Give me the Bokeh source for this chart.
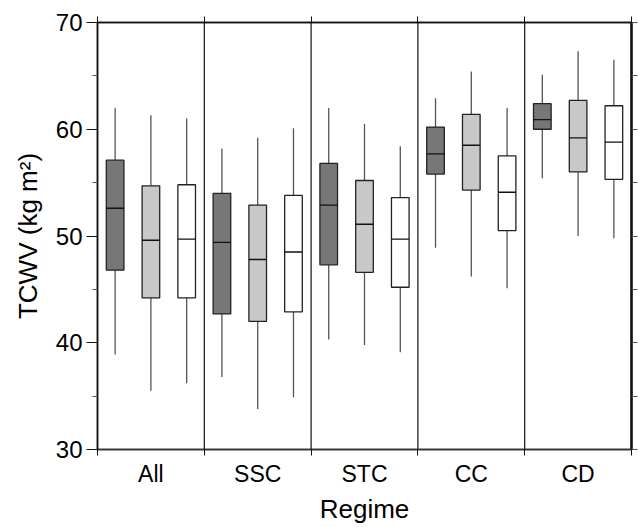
from bokeh.plotting import figure
from bokeh.models import FixedTicker, LinearAxis, Span, Range1d
from bokeh.embed import file_html
from bokeh.resources import INLINE

regimes = ["All", "SSC", "STC", "CC", "CD"]

# series A (dark grey boxes)
a_low = [38.9, 36.8, 40.3, 48.9, 55.4]
a_q1 = [46.8, 42.7, 47.3, 55.8, 60.0]
a_med = [52.6, 49.4, 52.9, 57.7, 60.9]
a_q3 = [57.1, 54.0, 56.8, 60.2, 62.4]
a_high = [62.0, 58.2, 62.0, 62.9, 65.1]

# series B (light grey boxes)
b_low = [35.5, 33.8, 39.8, 46.2, 50.0]
b_q1 = [44.2, 42.0, 46.6, 54.3, 56.0]
b_med = [49.6, 47.8, 51.1, 58.5, 59.2]
b_q3 = [54.7, 52.9, 55.2, 61.4, 62.7]
b_high = [61.3, 59.2, 60.5, 65.4, 67.3]

# series C (white boxes)
c_low = [36.2, 34.9, 39.1, 45.1, 49.8]
c_q1 = [44.2, 42.9, 45.2, 50.5, 55.3]
c_med = [49.7, 48.5, 49.7, 54.1, 58.8]
c_q3 = [54.8, 53.8, 53.6, 57.5, 62.2]
c_high = [61.0, 60.1, 58.4, 62.0, 66.5]

y_ticks = [30, 40, 50, 60, 70]
y_minor = [35, 45, 55, 65]

FONT = "Liberation Sans"

p = figure(width=639, height=527, output_backend="svg", toolbar_location=None,
           x_range=Range1d(0, 5), y_range=Range1d(30, 70),
           x_axis_location=None, y_axis_location=None,
           min_border_left=97, min_border_top=22, min_border_bottom=78, min_border_right=8)
p.grid.visible = False
p.outline_line_color = "#111111"
p.outline_line_width = 1.5
p.background_fill_color = "white"
p.border_fill_color = "white"

# separators
for i in range(1, len(regimes)):
    p.add_layout(Span(location=i, dimension="height", line_color="#111111", line_width=1.2))

series = [
    (a_low, a_q1, a_med, a_q3, a_high, "#777777", -0.335),
    (b_low, b_q1, b_med, b_q3, b_high, "#c8c8c8", 0.0),
    (c_low, c_q1, c_med, c_q3, c_high, "#ffffff", 0.335),
]
bw = 0.165
for low, q1, med, q3, high, col, off in series:
    xs = [i + 0.5 + off for i in range(len(regimes))]
    p.segment(x0=xs, y0=q3, x1=xs, y1=high, line_color="#555555", line_width=1.3)
    p.segment(x0=xs, y0=low, x1=xs, y1=q1, line_color="#555555", line_width=1.3)
    p.vbar(x=xs, width=bw, bottom=q1, top=q3, fill_color=col, line_color="#222222", line_width=1.3)
    p.segment(x0=[x - bw / 2 for x in xs], y0=med, x1=[x + bw / 2 for x in xs], y1=med,
              line_color="#111111", line_width=1.3)

cat_pos = [i + 0.5 for i in range(len(regimes))]
bounds = list(range(len(regimes) + 1))

bottom = LinearAxis(ticker=FixedTicker(ticks=cat_pos, minor_ticks=bounds),
                    major_label_overrides={c: r for c, r in zip(cat_pos, regimes)},
                    axis_label="Regime")
bottom.major_tick_out = 0
bottom.major_tick_in = 0
bottom.minor_tick_out = 6
bottom.minor_tick_in = 0
bottom.minor_tick_line_color = "#111111"
bottom.axis_line_color = "#333333"
bottom.axis_line_width = 1.5
bottom.major_label_text_font = FONT
bottom.major_label_text_font_size = "23px"
bottom.major_label_text_color = "black"
bottom.major_label_standoff = 5
bottom.axis_label_text_font = FONT
bottom.axis_label_text_font_size = "26px"
bottom.axis_label_text_font_style = "normal"
bottom.axis_label_text_color = "black"
bottom.axis_label_standoff = 4
p.add_layout(bottom, "below")

top = LinearAxis(ticker=FixedTicker(ticks=[], minor_ticks=bounds))
top.minor_tick_out = 6
top.minor_tick_in = 0
top.minor_tick_line_color = "#111111"
top.axis_line_color = "#111111"
top.axis_line_width = 1.5
p.add_layout(top, "above")

left = LinearAxis(ticker=FixedTicker(ticks=y_ticks, minor_ticks=y_minor),
                  axis_label="TCWV (kg m\u00b2)")
left.major_tick_out = 11
left.major_tick_in = 0
left.minor_tick_out = 5
left.minor_tick_in = 0
left.major_tick_line_color = "#111111"
left.minor_tick_line_color = "#555555"
left.axis_line_color = "#111111"
left.axis_line_width = 1.5
left.major_label_text_font = FONT
left.major_label_text_font_size = "24px"
left.major_label_text_color = "black"
left.major_label_standoff = 4
left.axis_label_text_font = FONT
left.axis_label_text_font_size = "26px"
left.axis_label_text_font_style = "normal"
left.axis_label_text_color = "black"
left.axis_label_standoff = 10
p.add_layout(left, "left")

right = LinearAxis(ticker=FixedTicker(ticks=[], minor_ticks=sorted(y_ticks + y_minor)))
right.minor_tick_out = 6
right.minor_tick_in = 0
right.minor_tick_line_color = "#555555"
right.axis_line_color = "#111111"
right.axis_line_width = 2.5
p.add_layout(right, "right")

open("out.html", "w").write(file_html(p, INLINE))
